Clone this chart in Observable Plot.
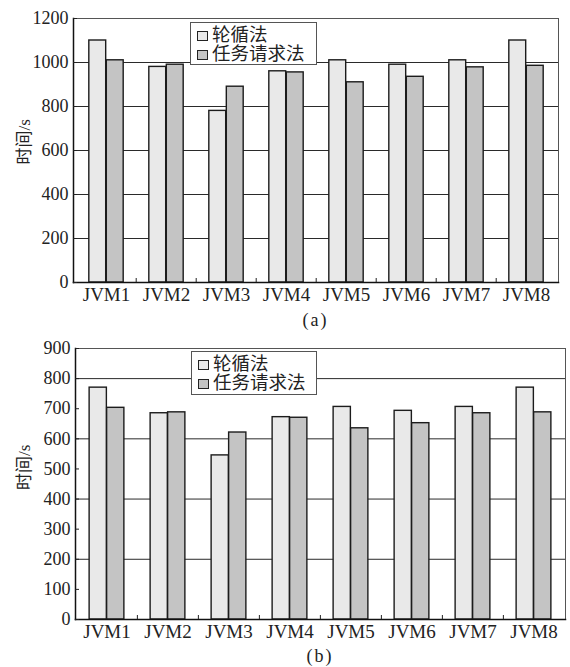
<!DOCTYPE html>
<html>
<head>
<meta charset="utf-8">
<script src="https://cdn.jsdelivr.net/npm/d3@7"></script>
<script src="https://cdn.jsdelivr.net/npm/@observablehq/plot@0.6"></script>
<style>
  body { margin: 0; background: #fff; }
  #fig { width: 570px; }
  .panel { position: relative; width: 570px; }
  .panel svg { display: block; }
  .legend {
    position: absolute; box-sizing: border-box; background: #fff;
    border: 1px solid #555; padding: 3px 0 0 6px;
    font-family: "Liberation Serif", "DejaVu Serif", "Noto Sans CJK SC", serif;
    font-size: 18.5px; color: #222; line-height: 19px;
  }
  .legend .row { display: flex; align-items: center; white-space: nowrap; }
  .legend .sw { width: 9px; height: 8px; border: 1px solid #222; margin-right: 4px; flex: none; }
  .caption {
    box-sizing: border-box; text-align: center; color: #222;
    font-family: "Liberation Serif", "DejaVu Serif", "Noto Sans CJK SC", serif;
    font-size: 18px; line-height: 20px; letter-spacing: 2px;
  }
</style>
</head>
<body>
<div id="fig"></div>
<script>
// JVM nodes and the two scheduling methods compared
const categories = ["JVM1", "JVM2", "JVM3", "JVM4", "JVM5", "JVM6", "JVM7", "JVM8"];
const methods = ["轮循法", "任务请求法"];
const methodColors = ["#e9e9e9", "#c4c4c4"];
const axisTitle = "时间/s";

// (a) completion time per JVM, seconds
const roundRobinA = [1100, 980, 780, 960, 1010, 990, 1010, 1100];
const taskRequestA = [1010, 990, 890, 955, 910, 935, 978, 985];
const yTicksA = [0, 200, 400, 600, 800, 1000, 1200];
const gridA = [200, 400, 600, 800, 1000];

// (b) completion time per JVM, seconds
const roundRobinB = [770, 685, 545, 672, 706, 693, 706, 770];
const taskRequestB = [703, 688, 621, 670, 635, 652, 685, 688];
const yTicksB = [0, 100, 200, 300, 400, 500, 600, 700, 800, 900];
const gridB = [200, 400, 600, 800];

const serif = "Liberation Serif, DejaVu Serif, Noto Sans CJK SC, serif";

function rows(a, b) {
  return categories.map((c, i) => ({cat: c, a: a[i], b: b[i]}));
}

function panel({data, yMax, yTicks, grid, caption, m, height, legendBox, titleDy}) {
  const width = 570;
  const step = (width - m.left - m.right) / categories.length;
  const barW = 17.5;
  const side = step / 2 - barW;
  const barStyle = {stroke: "#1c1c1c", strokeWidth: 1.4};

  const chart = Plot.plot({
    width, height,
    marginLeft: m.left, marginRight: m.right, marginTop: m.top, marginBottom: m.bottom,
    style: {fontFamily: serif, fontSize: "18px", color: "#222", background: "#fff"},
    x: {type: "band", domain: categories, padding: 0, label: null},
    y: {domain: [0, yMax], label: null},
    marks: [
      Plot.ruleY(grid, {stroke: "#2a2a2a", strokeWidth: 1}),
      Plot.barY(data, {x: "cat", y: "a", fill: methodColors[0], insetLeft: side, insetRight: step / 2, ...barStyle}),
      Plot.barY(data, {x: "cat", y: "b", fill: methodColors[1], insetLeft: step / 2, insetRight: side, ...barStyle}),
      Plot.frame({stroke: "#555", strokeWidth: 1}),
      Plot.frame({anchor: "left", stroke: "#111", strokeWidth: 1.5}),
      Plot.frame({anchor: "bottom", stroke: "#111", strokeWidth: 1.5}),
      Plot.axisY(yTicks, {tickSize: -4, tickPadding: 9, tickFormat: "d", stroke: "#222",
        fontFamily: serif, fontSize: 18, label: null}),
      // short upward ticks on the group boundaries
      Plot.axisX(categories.slice(1), {dx: -step / 2, tickSize: -4, tickFormat: () => "", stroke: "#222", label: null}),
      Plot.axisX({tickSize: 0, tickPadding: 5, fontFamily: serif, fontSize: 19, label: null}),
      Plot.text([axisTitle], {frameAnchor: "left", rotate: -90, dx: -m.left + 24, dy: titleDy,
        fontFamily: serif, fontSize: 17, fill: "#222"})
    ]
  });

  const wrap = document.createElement("div");
  wrap.className = "panel";
  wrap.appendChild(chart);

  const legend = document.createElement("div");
  legend.className = "legend";
  Object.assign(legend.style, {
    left: legendBox.x + "px", top: legendBox.y + "px",
    width: legendBox.w + "px", height: legendBox.h + "px"
  });
  methods.forEach((name, i) => {
    const row = document.createElement("div");
    row.className = "row";
    const sw = document.createElement("span");
    sw.className = "sw";
    sw.style.background = methodColors[i];
    const label = document.createElement("span");
    label.textContent = name;
    row.append(sw, label);
    legend.appendChild(row);
  });
  wrap.appendChild(legend);

  const cap = document.createElement("div");
  cap.className = "caption";
  cap.style.paddingLeft = m.left + "px";
  cap.style.paddingRight = m.right + "px";
  cap.style.height = "22px";
  cap.textContent = caption;

  const fig = document.getElementById("fig");
  fig.appendChild(wrap);
  fig.appendChild(cap);
}

panel({
  data: rows(roundRobinA, taskRequestA), yMax: 1200, yTicks: yTicksA, grid: gridA,
  caption: "(a)", m: {left: 73, right: 12, top: 18, bottom: 28}, height: 310,
  legendBox: {x: 190, y: 22, w: 127, h: 43}, titleDy: 14
});
panel({
  data: rows(roundRobinB, taskRequestB), yMax: 900, yTicks: yTicksB, grid: gridB,
  caption: "(b)", m: {left: 75, right: 5, top: 16, bottom: 27}, height: 314,
  legendBox: {x: 191, y: 19, w: 126, h: 44}, titleDy: 6
});
</script>
</body>
</html>
